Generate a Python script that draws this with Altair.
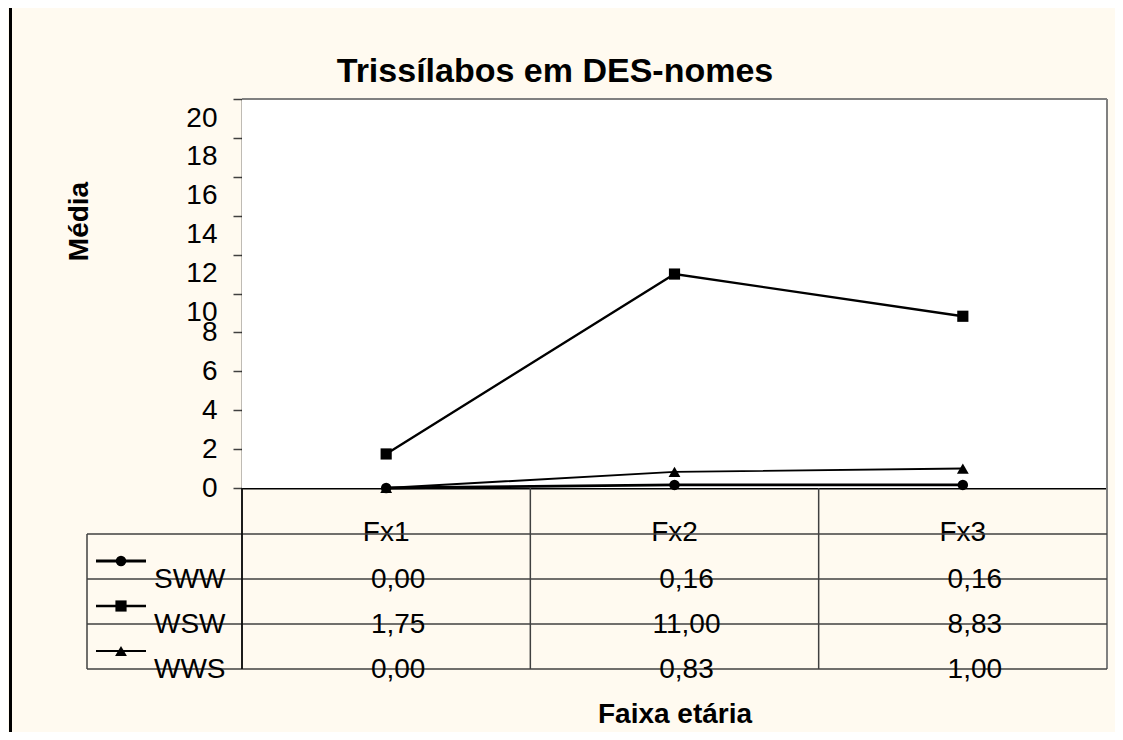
import altair as alt
import pandas as pd

# ---------------- data ----------------
categories = ["Fx1", "Fx2", "Fx3"]
series = ["SWW", "WSW", "WWS"]
sww = [0.00, 0.16, 0.16]
wsw = [1.75, 11.00, 8.83]
wws = [0.00, 0.83, 1.00]
y_ticks = [0, 2, 4, 6, 8, 10, 12, 14, 16, 18, 20]
title_text = "Trissílabos em DES-nomes"
y_title = "Média"
x_title = "Faixa etária"

rows = []
for s, vals in zip(series, [sww, wsw, wws]):
    for c, v in zip(categories, vals):
        rows.append({"series": s, "cat": c, "value": v,
                     "label": f"{v:.2f}".replace(".", ",")})
df = pd.DataFrame(rows)
leg = pd.DataFrame({"series": series})
one = pd.DataFrame({"t": [title_text]})

# ---------------- layout / style ----------------
FONT = "Liberation Sans"
BG = "#FFFAF0"
LINEC = "#404040"
W, H = 1020, 570        # whole plot+table block
LEFT = 155              # width of the legend column
PLOT_H = 389            # height of the line plot
TABLE_TOP = 435

xscale = alt.Scale(type="band", domain=categories, range=[LEFT, W],
                   paddingInner=0, paddingOuter=0)
yscale = alt.Scale(domain=[0, 20], range=[PLOT_H, 0])
rowscale = alt.Scale(type="band", domain=series, range=[TABLE_TOP, H],
                     paddingInner=0, paddingOuter=0)
shape_scale = alt.Scale(domain=series, range=["circle", "square", "triangle-up"])
size_scale = alt.Scale(domain=series, range=[110, 140, 170])
width_scale = alt.Scale(domain=series, range=[2.8, 1.9, 1.9])

x_axis = alt.Axis(title=x_title, orient="bottom", offset=-(H - PLOT_H),
                  domainColor="black", domainWidth=2, ticks=False, tickSize=0,
                  labelFont=FONT, labelFontSize=28, labelColor="black",
                  labelAngle=0, labelPadding=52, labelBaseline="alphabetic",
                  titleFont=FONT, titleFontSize=28, titleFontWeight="bold",
                  titleColor="black", titleY=234, titleBaseline="alphabetic",
                  grid=False)

y_axis = alt.Axis(values=y_ticks, title=y_title, offset=-LEFT,
                  domainColor="black", domainWidth=1.5,
                  tickColor=LINEC, tickSize=9, tickWidth=1.5,
                  labelFont=FONT, labelFontSize=28, labelColor="black",
                  labelPadding=16, labelOverlap=False, labelFlush=False,
                  labelOffset={"condition": {"test": "datum.value >= 10", "value": 19},
                               "value": 0},
                  titleFont=FONT, titleFontSize=28, titleFontWeight="bold",
                  titleColor="black", titleX=-LEFT, titleY=122, titleAngle=270,
                  titleBaseline="alphabetic", titleAlign="center", grid=False)

X = lambda **kw: alt.X("cat:N", scale=xscale, axis=x_axis, **kw)

# ---------------- decoration ----------------
plot_bg = alt.Chart(one).mark_rect(fill="white").encode(
    x=alt.value(LEFT), x2=alt.value(W), y=alt.value(0), y2=alt.value(PLOT_H))
top_border = alt.Chart(one).mark_rule(color="#808080", strokeWidth=2).encode(
    x=alt.value(LEFT), x2=alt.value(W), y=alt.value(0))
right_border = alt.Chart(one).mark_rule(color="#808080", strokeWidth=2).encode(
    x=alt.value(W), y=alt.value(0), y2=alt.value(H))
frame_left = alt.Chart(one).mark_rule(color="black", strokeWidth=3).encode(
    x=alt.value(-76.5), y=alt.value(-91), y2=alt.value(H + 63))

# ---------------- table grid ----------------
dividers = alt.Chart(pd.DataFrame({"cat": categories})).mark_rule(
    color=LINEC, strokeWidth=1.5).encode(
    x=X(bandPosition=0), y=alt.value(PLOT_H), y2=alt.value(H))
axis_ext = alt.Chart(one).mark_rule(color="black", strokeWidth=1.5).encode(
    x=alt.value(LEFT), y=alt.value(PLOT_H), y2=alt.value(H))
rowlines = alt.Chart(leg).mark_rule(color=LINEC, strokeWidth=1.5).encode(
    y=alt.Y("series:N", scale=rowscale, axis=None, bandPosition=0),
    x=alt.value(0), x2=alt.value(W))
bottom_line = alt.Chart(one).mark_rule(color=LINEC, strokeWidth=1.5).encode(
    y=alt.value(H), x=alt.value(0), x2=alt.value(W))
table_left = alt.Chart(one).mark_rule(color=LINEC, strokeWidth=1.5).encode(
    x=alt.value(0), y=alt.value(TABLE_TOP), y2=alt.value(H))

# ---------------- data marks ----------------
lines = alt.Chart(df).mark_line(color="black").encode(
    x=X(), y=alt.Y("value:Q", scale=yscale, axis=y_axis),
    detail="series:N",
    strokeWidth=alt.StrokeWidth("series:O", scale=width_scale, legend=None))
points = alt.Chart(df).mark_point(filled=True, color="black", opacity=1,
                                  strokeWidth=0).encode(
    x=X(), y=alt.Y("value:Q", scale=yscale, axis=None),
    shape=alt.Shape("series:N", scale=shape_scale, legend=None),
    size=alt.Size("series:O", scale=size_scale, legend=None))

values = alt.Chart(df).mark_text(font=FONT, fontSize=28, color="black",
                                 baseline="alphabetic", dy=9, dx=12).encode(
    x=X(), y=alt.Y("series:N", scale=rowscale, axis=None, bandPosition=1),
    text="label:N")

leg_lines = alt.Chart(leg).mark_rule(color="black").encode(
    x=alt.value(9), x2=alt.value(59),
    y=alt.Y("series:N", scale=rowscale, axis=None, bandPosition=0.6),
    strokeWidth=alt.StrokeWidth("series:O", scale=width_scale, legend=None))
leg_pts = alt.Chart(leg).mark_point(filled=True, color="black", opacity=1,
                                    strokeWidth=0).encode(
    x=alt.value(34),
    y=alt.Y("series:N", scale=rowscale, axis=None, bandPosition=0.6),
    shape=alt.Shape("series:N", scale=shape_scale, legend=None),
    size=alt.Size("series:O", scale=size_scale, legend=None))
leg_text = alt.Chart(leg).mark_text(font=FONT, fontSize=28, color="black",
                                    align="left", baseline="alphabetic",
                                    dy=9).encode(
    x=alt.value(67),
    y=alt.Y("series:N", scale=rowscale, axis=None, bandPosition=1),
    text="series:N")

title = alt.Chart(one).mark_text(font=FONT, fontSize=34, fontWeight="bold",
                                 color="black", baseline="alphabetic",
                                 align="center").encode(
    x=alt.value(468), y=alt.value(-17), text="t:N")

chart = alt.layer(
    plot_bg, top_border, right_border, frame_left,
    dividers, rowlines, bottom_line, table_left, axis_ext,
    lines, points, values, leg_lines, leg_pts, leg_text, title
).resolve_scale(y="independent").properties(
    width=W, height=H,
    autosize=alt.AutoSizeParams(type="none"),
    padding={"left": 79, "top": 91, "right": 8, "bottom": 63},
    background=BG,
).configure_view(stroke=None)

chart.save("out.html", embed_options={"renderer": "svg", "actions": False})
